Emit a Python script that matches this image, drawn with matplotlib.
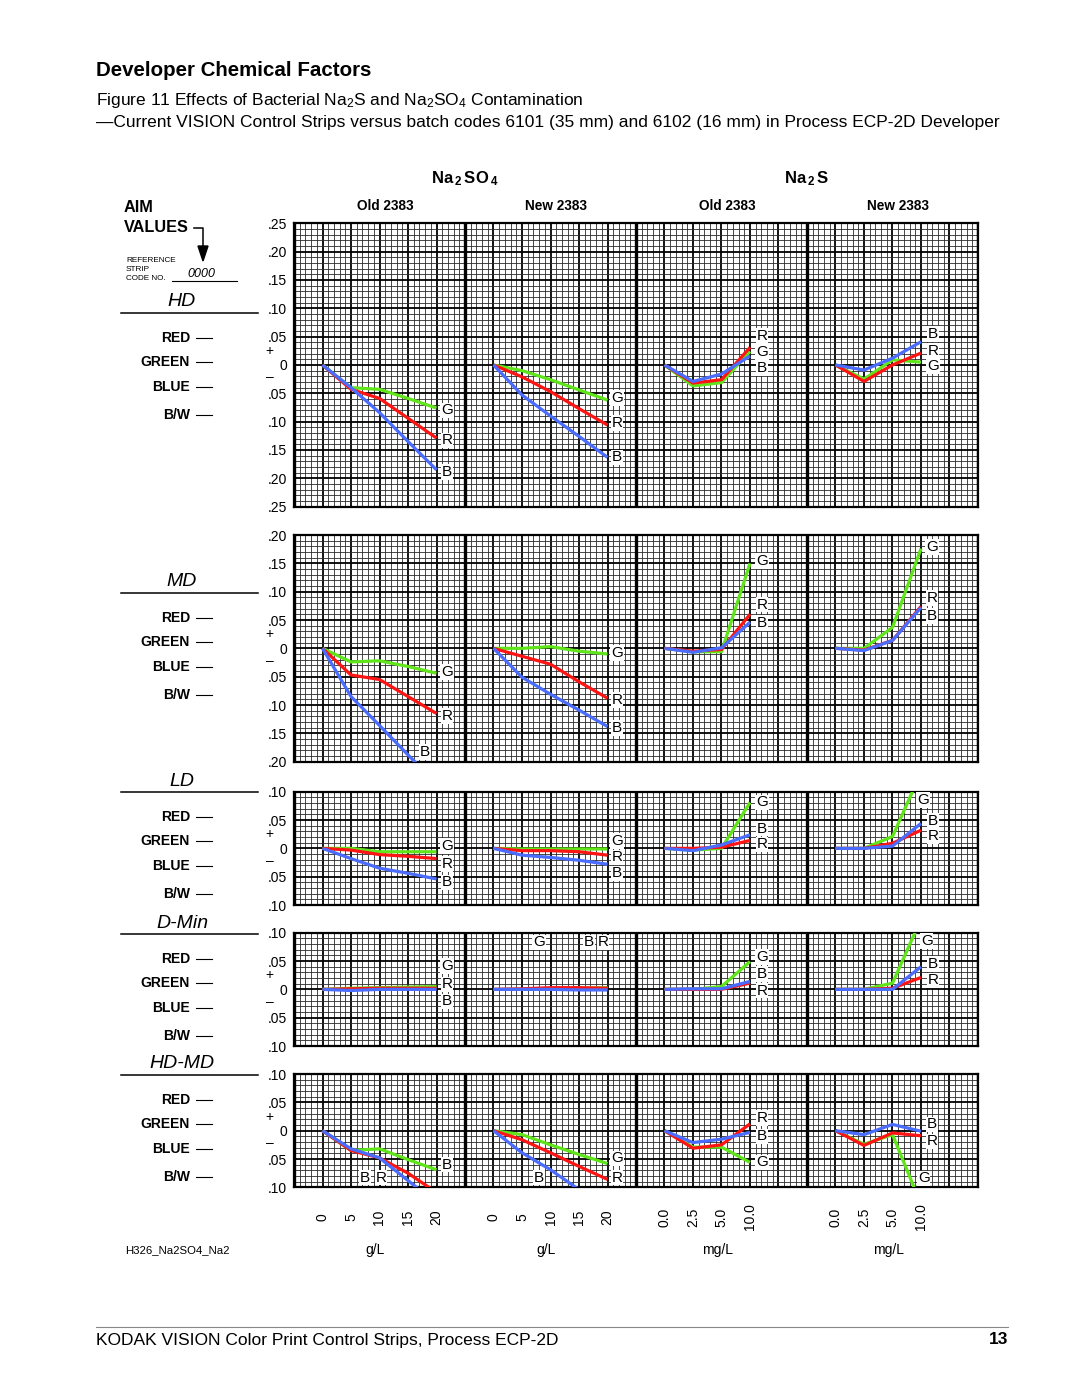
import numpy as np
import matplotlib
matplotlib.use("Agg")
import matplotlib.pyplot as plt
from matplotlib import transforms
from matplotlib.patches import Polygon

plt.rcParams['font.family'] = ['Liberation Sans', 'DejaVu Sans']
plt.rcParams['mathtext.fontset'] = 'custom'
plt.rcParams['mathtext.rm'] = 'Liberation Sans'
plt.rcParams['mathtext.bf'] = 'Liberation Sans:bold'
plt.rcParams['mathtext.it'] = 'Liberation Sans:italic'

# ---- data -------------------------------------------------------------
panel_titles = ['Old 2383', 'New 2383', 'Old 2383', 'New 2383']
so4_levels = ['0', '5', '10', '15', '20']
s_levels = ['0.0', '2.5', '5.0', '10.0']
panel_levels = [so4_levels, so4_levels, s_levels, s_levels]
units = ['g/L', 'g/L', 'mg/L', 'mg/L']

row_names = ['HD', 'MD', 'LD', 'D-Min', 'HD-MD']
row_limits = [0.25, 0.20, 0.10, 0.10, 0.10]

# density change per panel: Old/New Na2SO4, Old/New Na2S
hd_red = [[0, -0.043, -0.059, -0.094, -0.129], [0, -0.021, -0.047, -0.077, -0.106],
          [0, -0.032, -0.026, 0.031], [0, -0.029, 0.000, 0.021]]
hd_green = [[0, -0.040, -0.043, -0.059, -0.076], [0, -0.010, -0.026, -0.044, -0.062],
            [0, -0.037, -0.031, 0.024], [0, -0.025, 0.009, 0.005]]
hd_blue = [[0, -0.040, -0.084, -0.135, -0.185], [0, -0.053, -0.090, -0.126, -0.163],
           [0, -0.029, -0.016, 0.016], [0, -0.009, 0.012, 0.041]]

md_red = [[0, -0.047, -0.055, -0.085, -0.115], [0, -0.014, -0.028, -0.059, -0.088],
          [0, -0.005, -0.002, 0.060], [0, -0.003, 0.014, 0.074]]
md_green = [[0, -0.024, -0.022, -0.032, -0.044], [0, 0.000, 0.003, -0.005, -0.010],
            [0, -0.006, -0.006, 0.150], [0, 0.000, 0.037, 0.176]]
md_blue = [[0, -0.085, -0.136, -0.188, -0.238], [0, -0.051, -0.081, -0.109, -0.138],
           [0, -0.007, 0.001, 0.046], [0, -0.004, 0.014, 0.072]]

ld_red = [[0, -0.003, -0.011, -0.014, -0.018], [0, -0.004, -0.004, -0.006, -0.012],
          [0, 0.000, 0.002, 0.014], [0, 0.000, 0.009, 0.032]]
ld_green = [[0, 0.000, -0.006, -0.006, -0.006], [0, -0.001, -0.001, -0.001, -0.001],
            [0, -0.003, 0.000, 0.081], [0, 0.000, 0.021, 0.134]]
ld_blue = [[0, -0.018, -0.035, -0.044, -0.054], [0, -0.012, -0.016, -0.021, -0.028],
           [0, -0.004, 0.006, 0.024], [0, 0.000, 0.004, 0.044]]

dmin_red = [[0, 0.001, 0.002, 0.002, 0.002], [0, 0.001, 0.003, 0.003, 0.002],
            [0, 0.000, 0.000, 0.011], [0, 0.000, 0.002, 0.021]]
dmin_green = [[0, 0.002, 0.003, 0.004, 0.005], [0, 0.000, 0.001, 0.002, 0.003],
              [0, 0.000, 0.005, 0.049], [0, 0.000, 0.011, 0.124]]
dmin_blue = [[0, -0.002, 0.000, 0.000, 0.000], [0, 0.000, 0.000, -0.001, -0.001],
             [0, 0.001, 0.001, 0.014], [0, 0.000, 0.000, 0.040]]

hdmd_red = [[0, -0.035, -0.048, -0.075, -0.109], [0, -0.016, -0.039, -0.063, -0.086],
            [0, -0.031, -0.025, 0.012], [0, -0.026, -0.004, -0.009]]
hdmd_green = [[0, -0.035, -0.032, -0.051, -0.069], [0, -0.007, -0.025, -0.042, -0.058],
              [0, -0.029, -0.029, -0.056], [0, -0.024, -0.007, -0.130]]
hdmd_blue = [[0, -0.032, -0.048, -0.088, -0.128], [0, -0.039, -0.069, -0.104, -0.139],
             [0, -0.021, -0.015, -0.003], [0, -0.007, 0.011, -0.001]]

# letter tags on the curves: (letter, x in grid units, y)
hd_tags = [('G', 5.37, -0.080), ('R', 5.37, -0.133), ('B', 5.37, -0.189),
           ('G', 11.33, -0.058), ('R', 11.33, -0.102), ('B', 11.33, -0.163),
           ('R', 16.42, 0.051), ('G', 16.42, 0.023), ('B', 16.42, -0.005),
           ('B', 22.42, 0.055), ('R', 22.42, 0.025), ('G', 22.42, -0.002)]
md_tags = [('G', 5.37, -0.042), ('R', 5.37, -0.119), ('B', 4.6, -0.183),
           ('G', 11.33, -0.008), ('R', 11.33, -0.091), ('B', 11.33, -0.141),
           ('G', 16.42, 0.154), ('R', 16.42, 0.077), ('B', 16.42, 0.045),
           ('G', 22.39, 0.179), ('R', 22.39, 0.089), ('B', 22.39, 0.057)]
ld_tags = [('G', 5.37, 0.004), ('R', 5.37, -0.028), ('B', 5.37, -0.060),
           ('G', 11.33, 0.013), ('R', 11.33, -0.016), ('B', 11.33, -0.044),
           ('G', 16.42, 0.081), ('B', 16.42, 0.035), ('R', 16.42, 0.007),
           ('G', 22.07, 0.085), ('B', 22.42, 0.048), ('R', 22.42, 0.021)]
dmin_tags = [('G', 5.37, 0.041), ('R', 5.37, 0.009), ('B', 5.37, -0.021),
             ('G', 8.6, 0.083), ('B', 10.35, 0.083), ('R', 10.84, 0.083),
             ('G', 16.42, 0.057), ('B', 16.42, 0.027), ('R', 16.42, -0.002),
             ('G', 22.2, 0.085), ('B', 22.42, 0.045), ('R', 22.42, 0.016)]
hdmd_tags = [('B', 5.37, -0.060), ('B', 2.49, -0.083), ('R', 3.05, -0.083),
             ('G', 11.33, -0.049), ('R', 11.33, -0.083), ('B', 8.6, -0.083),
             ('R', 16.42, 0.022), ('B', 16.42, -0.010), ('G', 16.42, -0.056),
             ('B', 22.39, 0.011), ('R', 22.39, -0.019), ('G', 22.1, -0.084)]

rows = [(hd_red, hd_green, hd_blue, hd_tags),
        (md_red, md_green, md_blue, md_tags),
        (ld_red, ld_green, ld_blue, ld_tags),
        (dmin_red, dmin_green, dmin_blue, dmin_tags),
        (hdmd_red, hdmd_green, hdmd_blue, hdmd_tags)]

# ---- layout -----------------------------------------------------------
W, H = 1080, 1397
RED, GREEN, BLUE = '#ff1414', '#5fe51a', '#4a6cff'
GRID_L, GRID_W = 294, 684
PX_PER_UNIT = 566.7
row_tops = [223.3, 535, 791.7, 932.7, 1074]
left_rule_y = [313, 593, 792, 934, 1075]

fig = plt.figure(figsize=(W / 100, H / 100), dpi=100)
fig.patch.set_facecolor('white')

ov = fig.add_axes([0, 0, 1, 1])
ov.set_xlim(0, W)
ov.set_ylim(H, 0)
ov.axis('off')


def grid_axes(top, lim):
    h = 2 * lim * PX_PER_UNIT
    ax = fig.add_axes([GRID_L / W, 1 - (top + h) / H, GRID_W / W, h / H])
    ax.set_xlim(0, 24)
    ax.set_ylim(-lim, lim)
    ax.set_xticks(np.arange(0, 24.01, 1))
    ax.set_xticks(np.arange(0, 24.01, 0.2), minor=True)
    major = np.round(np.arange(-lim, lim + 1e-9, 0.05), 2)
    ax.set_yticks(major)
    ax.set_yticklabels(['0' if v == 0 else ('%.2f' % abs(v))[1:] for v in major])
    ax.set_yticks(np.arange(-lim, lim + 1e-9, 0.01), minor=True)
    ax.grid(which='minor', color='#2a2a2a', lw=0.6)
    ax.grid(which='major', color='black', lw=1.3)
    ax.tick_params(which='both', length=0, labelbottom=False, labelsize=10, pad=5)
    for v in range(0, 25, 6):
        ax.axvline(v, color='black', lw=2.4, zorder=2)
    for s in ax.spines.values():
        s.set_linewidth(1.6)
    tr = transforms.blended_transform_factory(ax.transAxes, ax.transData)
    ax.text(-0.036, 0.025, '+', transform=tr, ha='center', va='center', fontsize=10)
    ax.text(-0.036, -0.022, '\u2013', transform=tr, ha='center', va='center', fontsize=10)
    return ax


axes = []
for r, (reds, greens, blues, tags) in enumerate(rows):
    ax = grid_axes(row_tops[r], row_limits[r])
    axes.append(ax)
    for p in range(4):
        for series, col in ((greens, GREEN), (reds, RED), (blues, BLUE)):
            vals = series[p]
            xs = p * 6 + np.arange(1, len(vals) + 1)
            ax.plot(xs, vals, color=col, lw=2.3, zorder=3, solid_capstyle='butt')
    for letter, tx, ty in tags:
        ax.text(tx, ty, letter, ha='center', va='center', fontsize=11, zorder=5,
                bbox=dict(facecolor='white', edgecolor='none', pad=0.6))

    # left legend block
    ly = left_rule_y[r]
    ov.text(182, ly - 11, row_names[r], ha='center', va='center', fontsize=14, style='italic')
    ov.plot([121, 258], [ly, ly], color='black', lw=1.1)
    for name, dy in (('RED', 25), ('GREEN', 49), ('BLUE', 74), ('B/W', 102)):
        ov.text(190, ly + dy, name, ha='right', va='center', fontsize=10, weight='bold')
        ov.plot([196, 212], [ly + dy, ly + dy], color='black', lw=0.8)

# column headers
top_ax = axes[0]
htr = transforms.blended_transform_factory(top_ax.transData, fig.transFigure)
for p, t in enumerate(panel_titles):
    top_ax.text(p * 6 + 3.2, 1 - 206 / H, t, transform=htr, ha='center', va='center',
                fontsize=9.8, weight='bold')
top_ax.text(6, 1 - 179 / H, r'Na$\,_\mathbf{2}\,$SO$\,_\mathbf{4}$', transform=htr,
            ha='center', va='center', fontsize=12, weight='bold')
top_ax.text(18, 1 - 179 / H, r'Na$\,_\mathbf{2}\,$S', transform=htr,
            ha='center', va='center', fontsize=12, weight='bold')

# bottom concentration labels
bot = axes[-1]
btr = transforms.blended_transform_factory(bot.transData, fig.transFigure)
for p in range(4):
    for i, lab in enumerate(panel_levels[p]):
        bot.text(p * 6 + i + 1, 1 - 1217 / H, lab, transform=btr, rotation=90,
                 ha='center', va='center', fontsize=10)
    bot.text(p * 6 + 2.85, 1 - 1250 / H, units[p], transform=btr, ha='center',
             va='center', fontsize=10)

# aim values block
ov.text(124, 208, 'AIM', ha='left', va='center', fontsize=11.7, weight='bold')
ov.text(124, 227, 'VALUES', ha='left', va='center', fontsize=11.7, weight='bold')
ov.plot([194, 203, 203], [228, 228, 248], color='black', lw=1.1)
ov.add_patch(Polygon([[198, 246], [208, 246], [203, 261]], closed=True, color='black'))
ov.text(126, 260, 'REFERENCE', ha='left', va='center', fontsize=5.9)
ov.text(126, 269.5, 'STRIP', ha='left', va='center', fontsize=5.9)
ov.text(126, 279, 'CODE NO.', ha='left', va='center', fontsize=5.9)
ov.text(201, 274, '0000', ha='center', va='center', fontsize=9, style='italic')
ov.plot([172, 237], [281, 281], color='black', lw=0.8)
ov.text(125, 1250, 'H326_Na2SO4_Na2', ha='left', va='center', fontsize=8.2)

# titles
ov.text(96, 70, 'Developer Chemical Factors', ha='left', va='center', fontsize=14.8,
        weight='bold')
ov.text(96, 101, r'Figure 11 Effects of Bacterial Na$_2$S and Na$_2$SO$_4$ Contamination',
        ha='left', va='center', fontsize=12.5)
ov.text(96, 122, '\u2014Current VISION Control Strips versus batch codes 6101 (35 mm) and '
        '6102 (16 mm) in Process ECP-2D Developer', ha='left', va='center', fontsize=12.5)

# footer
ov.plot([96, 1008], [1327, 1327], color='#888888', lw=0.8)
ov.text(96, 1340, 'KODAK VISION Color Print Control Strips, Process ECP-2D', ha='left',
        va='center', fontsize=12.5)
ov.text(1008, 1340, '13', ha='right', va='center', fontsize=12.5, weight='bold')

fig.savefig('out.png', dpi=100, facecolor='white')
